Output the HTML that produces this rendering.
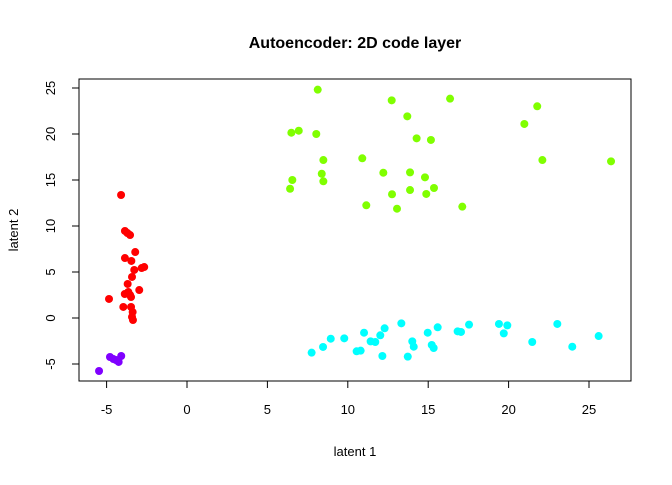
<!DOCTYPE html>
<html><head><meta charset="utf-8"><style>
body{margin:0;background:#fff}
svg text{font-family:"Liberation Sans",Arial,sans-serif;fill:#000}
</style></head><body>
<svg id="chart" width="672" height="480">
<text x="355" y="48" text-anchor="middle" font-size="16" font-weight="bold">Autoencoder: 2D code layer</text>
<rect x="79" y="79" width="552" height="302" fill="none" stroke="#000" stroke-width="1"/>
<g id="xaxis"></g>
<g id="yaxis"></g>
<text x="355" y="456" text-anchor="middle" font-size="13">latent 1</text>
<text transform="translate(18,230) rotate(-90)" text-anchor="middle" font-size="13">latent 2</text>
<g id="points"></g>
</svg>
<script>
const xTicks=[-5,0,5,10,15,20,25];
const yTicks=[-5,0,5,10,15,20,25];
const groupColors=["#FF0000","#8000FF","#80FF00","#00FFFF"];
const redX=[-4.10,-3.86,-3.71,-3.54,-3.22,-3.86,-3.46,-3.28,-2.82,-2.66,-3.42,-3.69,-2.97,-3.87,-3.65,-3.54,-3.48,-4.85,-3.96,-3.48,-3.38,-3.42,-3.36];
const redY=[13.37,9.46,9.24,9.02,7.17,6.52,6.20,5.22,5.43,5.54,4.46,3.70,3.04,2.61,2.83,2.50,2.28,2.07,1.20,1.20,0.65,0.11,-0.22];
const purpleX=[-4.79,-4.58,-4.25,-4.09,-5.47,-4.42];
const purpleY=[-4.24,-4.46,-4.78,-4.13,-5.76,-4.57];
const greenX=[8.13,12.73,16.36,21.78,13.70,20.98,6.49,6.95,8.04,14.28,15.17,8.48,10.90,22.10,26.37,8.38,12.21,13.87,14.80,6.55,8.48,6.41,15.36,12.75,13.87,14.88,11.15,13.06,17.12];
const greenY=[24.82,23.66,23.84,23.01,21.92,21.09,20.14,20.36,20.0,19.53,19.35,17.17,17.36,17.17,17.03,15.68,15.79,15.83,15.29,15.0,14.86,14.05,14.13,13.45,13.91,13.48,12.25,11.88,12.10];
const cyanX=[7.75,8.46,8.94,9.78,10.55,10.80,11.01,11.42,11.71,12.02,12.29,12.15,13.33,13.73,14.01,14.10,14.97,15.22,15.34,15.59,16.83,17.04,17.54,19.40,19.92,19.70,21.47,23.03,23.96,25.60];
const cyanY=[-3.77,-3.15,-2.25,-2.21,-3.62,-3.55,-1.60,-2.54,-2.61,-1.88,-1.12,-4.13,-0.58,-4.20,-2.54,-3.12,-1.60,-2.93,-3.26,-1.01,-1.45,-1.52,-0.72,-0.65,-0.80,-1.67,-2.61,-0.65,-3.12,-1.96];

const NS="http://www.w3.org/2000/svg";
const sx=v=>187+v*16.08;
const sy=v=>318-v*9.2;
function mk(tag,attrs,parent){const e=document.createElementNS(NS,tag);for(const k in attrs)e.setAttribute(k,attrs[k]);parent.appendChild(e);return e;}
const xa=document.getElementById('xaxis'),ya=document.getElementById('yaxis');
mk('line',{x1:sx(xTicks[0]),x2:sx(xTicks[xTicks.length-1]),y1:381,y2:381,stroke:'#000'},xa);
xTicks.forEach(t=>{
  const l=mk('line',{x1:sx(t),x2:sx(t),y1:381,y2:388,stroke:'#000'},xa);
  
  
  const tx=mk('text',{x:sx(t),y:414,'text-anchor':'middle','font-size':13},xa);
  tx.textContent=t<0?'\u2212'.replace('\u2212','-')+Math.abs(t):t;
  
  
});
mk('line',{x1:79,x2:79,y1:sy(yTicks[0]),y2:sy(yTicks[yTicks.length-1]),stroke:'#000'},ya);
yTicks.forEach(t=>{
  const l=mk('line',{x1:72,x2:79,y1:sy(t),y2:sy(t),stroke:'#000'},ya);
  
  
  const tx=mk('text',{transform:`translate(55,${sy(t)}) rotate(-90)`,'text-anchor':'middle','font-size':13},ya);
  tx.textContent=t;
  
  
});
const pg=document.getElementById('points');
[[redX,redY],[purpleX,purpleY],[greenX,greenY],[cyanX,cyanY]].forEach((g,gi)=>{
  g[0].forEach((x,i)=>{
    const c=mk('circle',{cx:sx(x),cy:sy(g[1][i]),r:4,fill:groupColors[gi]},pg);
    
    
  });
});
</script>
</body></html>
